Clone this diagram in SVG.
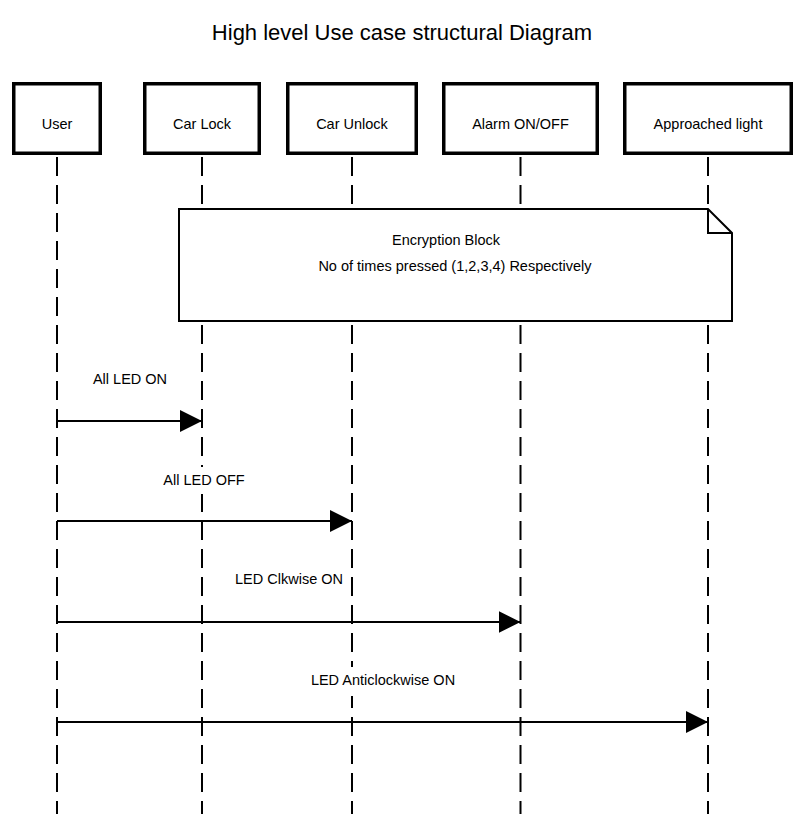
<svg xmlns="http://www.w3.org/2000/svg" width="804" height="814" viewBox="0 0 804 814">
<style>
text{font-family:"Liberation Sans",Arial,sans-serif;fill:#000;text-anchor:middle}
.t{font-size:14.5px}
.box{fill:#fff;stroke:#000;stroke-width:3.5}
.life{stroke:#000;stroke-width:2;stroke-dasharray:19 9;fill:none}
.msg{stroke:#000;stroke-width:2;fill:none}
.lbg{fill:#fff}
</style>
<defs>
<marker id="ah" markerUnits="userSpaceOnUse" markerWidth="24" markerHeight="24" refX="22" refY="11" orient="auto">
<path d="M0,0 L22,11 L0,22 Z" fill="#000"/>
</marker>
</defs>
<rect width="804" height="814" fill="#fff"/>
<text x="402" y="40" style="font-size:22px">High level Use case structural Diagram</text>
<g id="lifelines">
<line class="life" x1="57" y1="157" x2="57" y2="814"/>
<line class="life" x1="202" y1="157" x2="202" y2="814"/>
<line class="life" x1="352" y1="157" x2="352" y2="814"/>
<line class="life" x1="520.5" y1="157" x2="520.5" y2="814"/>
<line class="life" x1="708" y1="157" x2="708" y2="814"/>
</g>
<g id="user"><rect class="box" x="13.75" y="83.75" width="86.5" height="69.5"/><text class="t" x="57" y="129">User</text></g>
<g id="carlock"><rect class="box" x="144.75" y="83.75" width="114.5" height="69.5"/><text class="t" x="202" y="129">Car Lock</text></g>
<g id="carunlock"><rect class="box" x="287.75" y="83.75" width="128.5" height="69.5"/><text class="t" x="352" y="129">Car Unlock</text></g>
<g id="alarm"><rect class="box" x="443.75" y="83.75" width="153.5" height="69.5"/><text class="t" x="520.5" y="129">Alarm ON/OFF</text></g>
<g id="approached"><rect class="box" x="624.75" y="83.75" width="166.5" height="69.5"/><text class="t" x="708" y="129">Approached light</text></g>
<g id="note">
<path d="M179,209 H708 L732,233 V321 H179 Z" fill="#fff" stroke="#000" stroke-width="2"/>
<path d="M708,209 V233 H732" fill="none" stroke="#000" stroke-width="2"/>
<text class="t" x="446" y="245">Encryption Block</text>
<text class="t" x="455" y="271">No of times pressed (1,2,3,4) Respectively</text>
</g>
<g id="connectors">
<line class="msg" x1="57" y1="421" x2="202" y2="421" marker-end="url(#ah)"/>
<line class="msg" x1="57" y1="521" x2="352" y2="521" marker-end="url(#ah)"/>
<line class="msg" x1="57" y1="622" x2="520.5" y2="622" marker-end="url(#ah)"/>
<line class="msg" x1="57" y1="722" x2="708" y2="722" marker-end="url(#ah)"/>
</g>
<g id="labels">
<rect class="lbg" x="90" y="366" width="80" height="27"/>
<text class="t" x="130" y="384">All LED ON</text>
<rect class="lbg" x="161" y="467" width="86" height="27"/>
<text class="t" x="204" y="485">All LED OFF</text>
<rect class="lbg" x="232" y="566" width="114" height="27"/>
<text class="t" x="289" y="584">LED Clkwise ON</text>
<rect class="lbg" x="308" y="667" width="150" height="29"/>
<text class="t" x="383" y="685">LED Anticlockwise ON</text>
</g>
</svg>
